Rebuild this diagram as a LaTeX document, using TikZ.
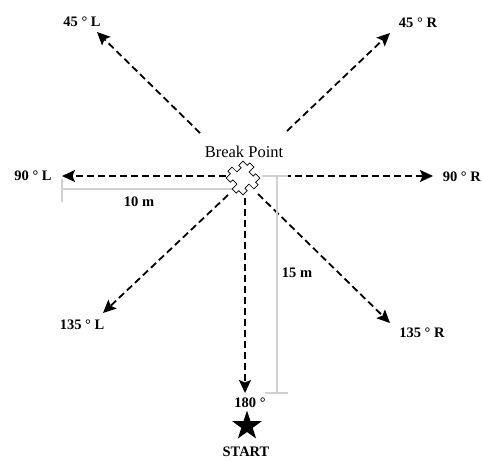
\documentclass[tikz,border=0pt]{standalone}
\usepackage{fontspec}
\setmainfont{Liberation Serif}
\usetikzlibrary{arrows.meta,shapes.geometric}
\begin{document}
\begin{tikzpicture}[x=1pt,y=-1pt,
  dline/.style={line width=1.8pt, dash pattern=on 7pt off 4pt,
    -{Stealth[length=13pt,width=12pt,inset=2.5pt]}},
  meas/.style={line width=1.5pt, draw=black!18},
  lab/.style={font=\fontsize{14.5}{16}\selectfont\bfseries, inner sep=0pt},
  bplab/.style={font=\fontsize{16.5}{18}\selectfont, inner sep=0pt}]
\useasboundingbox (0,0) rectangle (482,461);
% named points
\coordinate (c) at (243,178);
\coordinate (ulS) at (200,133); \coordinate (ulT) at (97,32);
\coordinate (urS) at (287,131); \coordinate (urT) at (390,33);
\coordinate (lS) at (226,176);  \coordinate (lT) at (62,176);
\coordinate (rS) at (262,176);  \coordinate (rT) at (433,176);
\coordinate (llS) at (228,195); \coordinate (llT) at (103,313);
\coordinate (lrS) at (258,194); \coordinate (lrT) at (390,323);
\coordinate (dS) at (245,198);  \coordinate (dT) at (245,393);
% measurement lines
\coordinate (m1a) at (62,189); \coordinate (m1b) at (232,189);
\coordinate (m1u) at (62,179); \coordinate (m1d) at (62,202);
\coordinate (m2t) at (277,176); \coordinate (m2b) at (277,393);
\coordinate (m2tl) at (262,176); \coordinate (m2tr) at (288,176);
\coordinate (m2bl) at (265,393); \coordinate (m2br) at (288,393);
\draw[meas] (m1a) -- (m1b);
\draw[meas] (m1u) -- (m1d);
% arrows
\draw[dline] (ulS) -- (ulT);
\draw[dline] (urS) -- (urT);
\draw[dline] (lS) -- (lT);
\draw[dline] (rS) -- (rT);
\draw[dline] (llS) -- (llT);
\draw[dline] (lrS) -- (lrT);
\draw[dline] (dS) -- (dT);
\draw[meas] (m2tl) -- (m2tr);
\draw[meas] (m2t) -- (m2b);
\draw[meas] (m2bl) -- (m2br);
% break point symbol
\begin{scope}[shift={(c)}, rotate=45]
\draw[line width=0.7pt, fill=white]
  (-12,-12) -- (-6,-12) -- (-6,-15.5) -- (0,-15.5) -- (0,-8.5) -- (6,-8.5) -- (6,-12) -- (12,-12)
  -- (12,-6) -- (15.5,-6) -- (15.5,0) -- (8.5,0) -- (8.5,6) -- (12,6) -- (12,12)
  -- (6,12) -- (6,15.5) -- (0,15.5) -- (0,8.5) -- (-6,8.5) -- (-6,12) -- (-12,12)
  -- (-12,6) -- (-15.5,6) -- (-15.5,0) -- (-8.5,0) -- (-8.5,-6) -- (-12,-6) -- cycle;
\end{scope}
% start star
\coordinate (star) at (247,426);
\fill (star) ++(90:15.5pt) -- ++(0,0)
  -- ([shift={(126:6pt)}]star) -- ([shift={(162:15.5pt)}]star)
  -- ([shift={(198:6pt)}]star) -- ([shift={(234:15.5pt)}]star)
  -- ([shift={(270:6pt)}]star) -- ([shift={(306:15.5pt)}]star)
  -- ([shift={(342:6pt)}]star) -- ([shift={(18:15.5pt)}]star)
  -- ([shift={(54:6pt)}]star) -- cycle;
% labels
\node[bplab] (bp) at (244,152) {Break Point};
\node[lab] (l45L) at (82,22) {45 ° L};
\node[lab] (l45R) at (418,23) {45 ° R};
\node[lab] (l90L) at (33,176) {90 ° L};
\node[lab, anchor=east] (l90R) at (481,177) {90 ° R};
\node[lab] (l10) at (139,202) {10 m};
\node[lab] (l15) at (297,273) {15 m};
\node[lab] (l135L) at (82,325) {135 ° L};
\node[lab] (l135R) at (422,333) {135 ° R};
\node[lab] (l180) at (250,403) {180 °};
\node[lab] (start) at (246,452) {START};
\end{tikzpicture}
\end{document}
